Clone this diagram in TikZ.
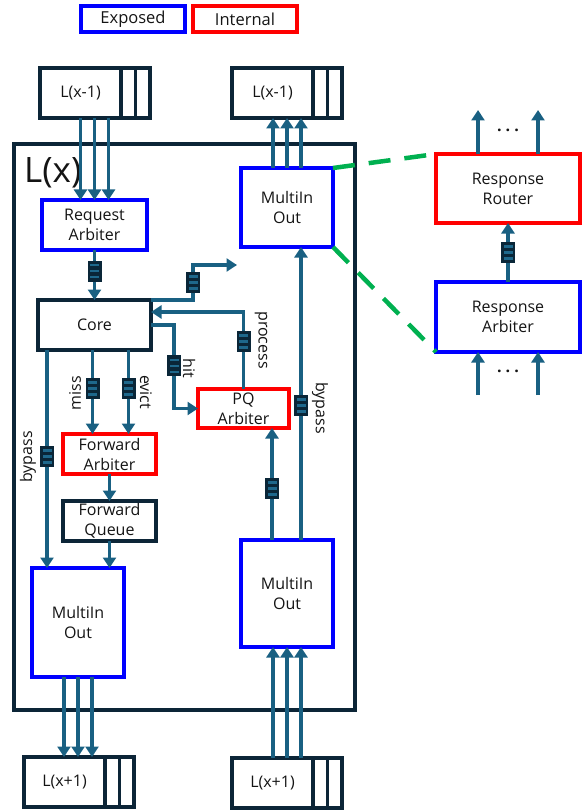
\documentclass[tikz,border=0pt]{standalone}
\usepackage{fontspec}
\setmainfont{Open Sans}
\usetikzlibrary{positioning,arrows.meta}
\definecolor{flowblue}{RGB}{25,96,130}
\definecolor{darkline}{RGB}{12,37,55}
\definecolor{fifodark}{RGB}{10,38,56}
\definecolor{fifostripe}{RGB}{30,104,140}
\definecolor{linkgreen}{RGB}{0,176,80}
\definecolor{textgrey}{RGB}{20,20,20}

\tikzset{
    base/.style={draw, line width=3.2pt, align=center, inner sep=0pt, outer sep=0pt,
        text=textgrey, font=\fontsize{16}{20}\selectfont},
    exposed/.style={base, draw=blue},
    internal/.style={base, draw=red},
    plain/.style={base, draw=darkline},
    slot/.style={plain, minimum width=14.5pt, minimum height=50pt},
    flow/.style={draw=flowblue, line width=3.2pt, -{Triangle[length=10.5pt,width=13pt]}},
    fifo/.style={fill=fifodark, minimum width=14pt, minimum height=21pt, inner sep=0pt,
        path picture={
            \foreach \yy in {-6,0,6}
                \fill[fifostripe] ([xshift=-4.5pt,yshift=\yy pt-1.4pt]path picture bounding box.center) rectangle ++(9pt,2.8pt);
        }},
    tag/.style={text=textgrey, font=\fontsize{16}{20}\selectfont, inner sep=0pt},
    link/.style={draw=linkgreen, line width=4.5pt, dash pattern=on 22pt off 14pt},
}

\begin{document}
\begin{tikzpicture}[x=1pt,y=-1pt]
    \useasboundingbox (0,0) rectangle (582,810);

    \node[exposed, minimum width=104pt, minimum height=26pt, font=\fontsize{16.5}{20}\selectfont] (keyExposed) at (133,19) {Exposed};
    \node[internal, minimum width=104pt, minimum height=26pt, font=\fontsize{16.5}{20}\selectfont] (keyInternal) at (245,19) {Internal};

    \node[plain, minimum width=81pt, minimum height=50pt] (prevA) at (80.5,93) {L(x-1)};
    \node[slot, right=0pt of prevA] (prevA1) {};
    \node[slot, right=0pt of prevA1] (prevA2) {};
    \node[plain, minimum width=81pt, minimum height=50pt] (prevB) at (272.5,93) {L(x-1)};
    \node[slot, right=0pt of prevB] (prevB1) {};
    \node[slot, right=0pt of prevB1] (prevB2) {};
    \node[plain, minimum width=81pt, minimum height=50pt] (nextA) at (64.5,782) {L(x+1)};
    \node[slot, right=0pt of nextA] (nextA1) {};
    \node[slot, right=0pt of nextA1] (nextA2) {};
    \node[plain, minimum width=81pt, minimum height=50pt] (nextB) at (272.5,783) {L(x+1)};
    \node[slot, right=0pt of nextB] (nextB1) {};
    \node[slot, right=0pt of nextB1] (nextB2) {};

    \node[plain, minimum width=341pt, minimum height=566pt] (levelX) at (184.5,427) {};
    \node[tag, font=\fontsize{35}{40}\selectfont, anchor=west] (levelXName) at (24,173) {L(x)};

    \node[exposed, minimum width=105pt, minimum height=50pt] (reqArb) at (94.5,225) {Request\\Arbiter};
    \node[plain, minimum width=113pt, minimum height=50pt] (core) at (94.5,325) {Core};
    \node[internal, minimum width=93pt, minimum height=40pt] (fwdArb) at (109.5,454) {Forward\\Arbiter};
    \node[plain, minimum width=93pt, minimum height=40pt] (fwdQueue) at (109.5,521) {Forward\\Queue};
    \node[exposed, minimum width=92pt, minimum height=109pt] (outL) at (78,622.5) {MultiIn\\Out};
    \node[internal, minimum width=91pt, minimum height=39pt] (pqArb) at (243.5,408.5) {PQ\\Arbiter};
    \node[exposed, minimum width=92pt, minimum height=79pt] (outTop) at (287,207.5) {MultiIn\\Out};
    \node[exposed, minimum width=92pt, minimum height=107pt] (outBot) at (287,593.5) {MultiIn\\Out};
    \node[internal, minimum width=144pt, minimum height=69pt] (respRouter) at (508,188.5) {Response\\Router};
    \node[exposed, minimum width=144pt, minimum height=70pt] (respArb) at (508,317) {Response\\Arbiter};

    \foreach \dx in {-14,0,14} {
        \draw[flow] ([xshift=\dx pt]reqArb.north |- prevA.south) -- ([xshift=\dx pt]reqArb.north);
        \draw[flow] ([xshift=\dx pt]outTop.north) -- ([xshift=\dx pt]outTop.north |- prevB.south);
        \draw[flow] ([xshift=\dx pt]outL.south) -- ([xshift=\dx pt]outL.south |- nextA.north);
        \draw[flow] ([xshift=\dx pt]outBot.south |- nextB.north) -- ([xshift=\dx pt]outBot.south);
    }

    \coordinate (bendOut) at (193,265);
    \coordinate (bendProc) at (243.5,312);
    \coordinate (bendHit) at (174,325);

    \draw[flow] (reqArb.south) -- node[fifo, pos=0.42] (qReqCore) {} (core.north);
    \draw[flow, shorten >=4pt] (core.north east) -| node[fifo, pos=0.75] (qCoreOut) {} (bendOut) -- (outTop.west |- bendOut);
    \draw[flow] (pqArb.north) -- node[fifo, pos=0.62] (qProc) {} (bendProc) -- (core.east |- bendProc);
    \draw[flow] (core.east) -- (bendHit) -- node[fifo, pos=0.49] (qHit) {} (bendHit |- pqArb.west) -- (pqArb.west);
    \draw[flow] ([xshift=-17pt]fwdArb.north |- core.south) -- node[fifo, pos=0.46] (qMiss) {} ([xshift=-17pt]fwdArb.north);
    \draw[flow] ([xshift=19pt]fwdArb.north |- core.south) -- node[fifo, pos=0.46] (qEvict) {} ([xshift=19pt]fwdArb.north);
    \draw[flow] ([xshift=-31pt]outL.north |- core.south) -- node[fifo, pos=0.49] (qBypassL) {} ([xshift=-31pt]outL.north);
    \draw[flow] (fwdArb.south) -- (fwdQueue.north);
    \draw[flow] (fwdQueue.south) -- (fwdQueue.south |- outL.north);
    \draw[flow] ([xshift=-15pt]outBot.north) -- node[fifo, pos=0.46] (qPQ) {} ([xshift=-15pt]outBot.north |- pqArb.south);
    \draw[flow] ([xshift=14pt]outBot.north) -- node[fifo, pos=0.46] (qBypassR) {} ([xshift=14pt]outBot.north |- outTop.south);
    \draw[flow] (respArb.north) -- node[fifo] (qResp) {} (respRouter.south);

    \coordinate (fanOutL) at (478,110);
    \coordinate (fanOutR) at (538,110);
    \coordinate (fanInL) at (478,395);
    \coordinate (fanInR) at (538,395);
    \draw[flow] (respRouter.north -| fanOutL) -- (fanOutL);
    \draw[flow] (respRouter.north -| fanOutR) -- (fanOutR);
    \draw[flow] (fanInL) -- (fanInL |- respArb.south);
    \draw[flow] (fanInR) -- (fanInR |- respArb.south);
    \node[tag, font=\bfseries\fontsize{16}{20}\selectfont] (dotsOut) at (508,130) {.\hspace{4pt}.\hspace{4pt}.};
    \node[tag, font=\bfseries\fontsize{16}{20}\selectfont] (dotsIn) at (508,371) {.\hspace{4pt}.\hspace{4pt}.};

    \draw[link] (outTop.north east) -- (respRouter.north west);
    \draw[link] (outTop.south east) -- (respArb.south west);

    \node[tag, rotate=90] (lblMiss) at (75,393) {miss};
    \node[tag, rotate=-90] (lblEvict) at (146,392) {evict};
    \node[tag, rotate=-90] (lblHit) at (189,368) {hit};
    \node[tag, rotate=-90] (lblProcess) at (261,340) {process};
    \node[tag, rotate=90] (lblBypassL) at (28,457) {bypass};
    \node[tag, rotate=-90] (lblBypassR) at (320,408) {bypass};
\end{tikzpicture}
\end{document}
